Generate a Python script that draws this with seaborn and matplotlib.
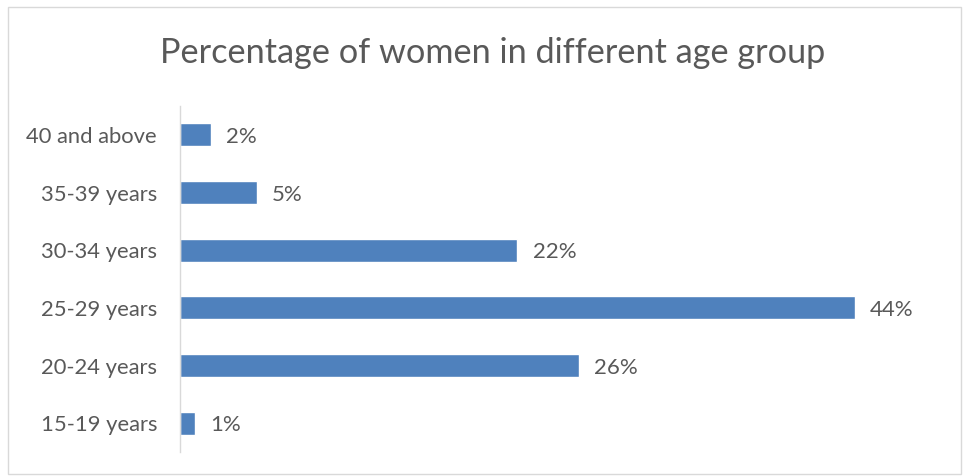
import pandas as pd
import matplotlib.pyplot as plt
import seaborn as sns
from matplotlib.patches import Rectangle

sns.set_style("white")
plt.rcParams['font.family'] = ['Lato', 'DejaVu Sans']

# data, top to bottom as in the chart
age_groups = ['40 and above', '35-39 years', '30-34 years', '25-29 years', '20-24 years', '15-19 years']
percent = [2, 5, 22, 44, 26, 1]

df = pd.DataFrame({'Age group': age_groups, 'Percent': percent})

text_color = '#595959'
bar_color = '#4F81BD'

fig = plt.figure(figsize=(9.65, 4.76), dpi=100)
ax = fig.add_axes([0.1865, 0.0504, 0.7945, 0.7266])

sns.barplot(data=df, x='Percent', y='Age group', color=bar_color, width=0.4,
            saturation=1, ax=ax)

ax.set_xlim(0, 50)
ax.set_xlabel('')
ax.set_ylabel('')
ax.set_xticks([])
for side in ['top', 'right', 'bottom']:
    ax.spines[side].set_visible(False)
ax.spines['left'].set_color('#D9D9D9')
ax.spines['left'].set_linewidth(1)
ax.tick_params(axis='y', length=0, pad=16.5, labelsize=15.8, labelcolor=text_color)
for lbl in ax.get_yticklabels():
    lbl.set_va('center_baseline')

for i, v in enumerate(percent):
    ax.annotate(f'{v}%', xy=(v, i), xytext=(11, -1.5), textcoords='offset points',
                va='center', ha='left', fontsize=16, color=text_color)

fig.text(0.511, 0.888, 'Percentage of women in different age group',
         ha='center', va='center', fontsize=24.7, color=text_color)

# chart border
fig.patches.append(Rectangle((0.008, 0.004), 0.988, 0.982, transform=fig.transFigure,
                             fill=False, edgecolor='#D9D9D9', linewidth=1))

fig.savefig('out.png', dpi=100)
